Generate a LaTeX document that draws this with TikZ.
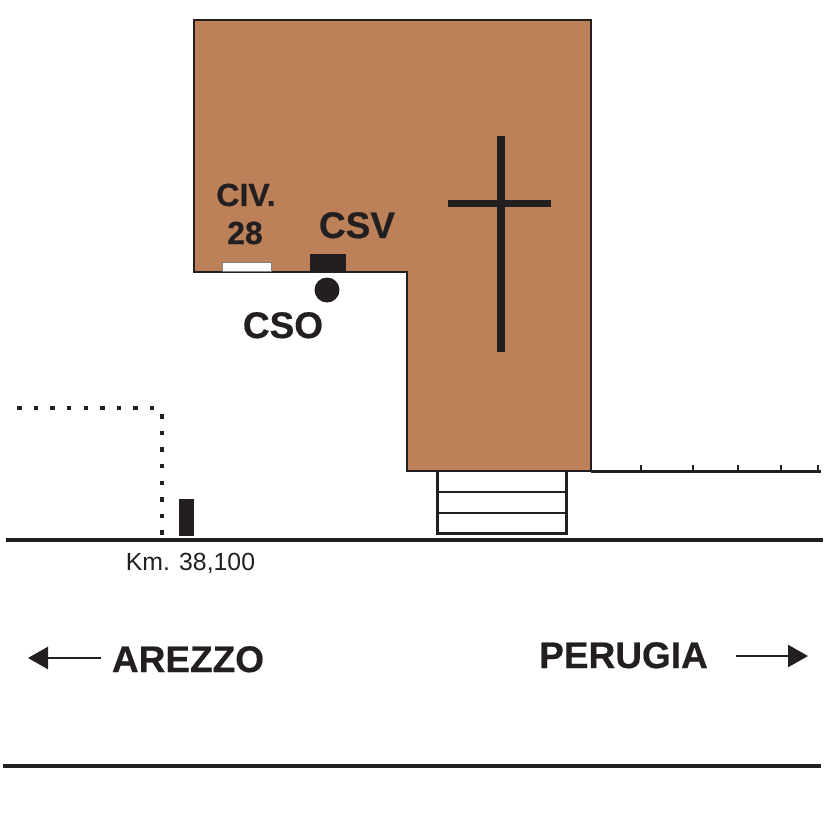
\documentclass[tikz,border=0pt]{standalone}
\usepackage{fontspec}
\setmainfont[BoldFeatures={FakeBold=0.5}]{Liberation Sans}
\usetikzlibrary{arrows.meta}
\definecolor{church}{HTML}{BC8159}
\definecolor{ink}{HTML}{231F20}
\begin{document}
\begin{tikzpicture}[x=1pt,y=-1pt,ink,
    big label/.style={inner sep=0pt,anchor=base,font=\fontsize{37}{37}\selectfont\bfseries},
    small label/.style={inner sep=0pt,anchor=base,font=\fontsize{32}{32}\selectfont\bfseries},
    road/.style={line width=4.5pt},
    outline/.style={line width=3pt},
    dots/.style={line width=4.5pt,dash pattern=on 4.5pt off 12.13pt},
    way/.style={line width=2.5pt,-{Triangle[length=20pt,width=22pt]}}]
  \useasboundingbox (0,0) rectangle (826,826);
  % building
  \draw[fill=church,line width=2.5pt,line join=miter] (194,20) -- (591,20) -- (591,471) -- (407,471) -- (407,272) -- (194,272) -- cycle;
  % cross
  \fill (497,136) rectangle (505,352);
  \fill (448,200) rectangle (551,207.5);
  % door and signs
  \draw[fill=white,line width=0.7pt,draw=gray] (222.5,262) rectangle (271,271);
  \fill (310,254) rectangle (346,272);
  \fill (327,290) circle (12.5);
  \node[small label] (civ) at (246,206) {CIV.};
  \node[small label] (num) at (245,244) {28};
  \node[big label] (csv) at (357,238) {CSV};
  \node[big label] (cso) at (283,338) {CSO};
  % steps
  \draw[outline] (437,471) -- (437,533) -- (566,533) -- (566,470);
  \foreach \y in {492,513}
    \draw[line width=2.5pt] (437,\y) -- (566,\y);
  % wall and ticks
  \draw[line width=3.5pt] (591,471.5) -- (821,471.5);
  \foreach \x in {641,693,738,781,818}
    \draw[line width=1.8pt] (\x,465) -- (\x,471);
  % boundary
  \draw[dots] (17,408) -- (154,408);
  \draw[dots] (162,414) -- (162,536);
  \fill (179,499) rectangle (194,536);
  % road
  \draw[road] (6,540) -- (823,540);
  \draw[road] (3,766) -- (821,766);
  \node[inner sep=0pt,anchor=base,font=\fontsize{24.8}{24.8}\selectfont] (km) at (190.5,570) {Km. 38,100};
  % directions
  \coordinate (arezzo tail) at (101,658);
  \coordinate (arezzo tip) at (28,658);
  \coordinate (perugia tail) at (736,656);
  \coordinate (perugia tip) at (808,656);
  \draw[way] (arezzo tail) -- (arezzo tip);
  \draw[way] (perugia tail) -- (perugia tip);
  \node[big label] (arezzo) at (188,672) {AREZZO};
  \node[big label] (perugia) at (623.5,668) {PERUGIA};
\end{tikzpicture}
\end{document}
